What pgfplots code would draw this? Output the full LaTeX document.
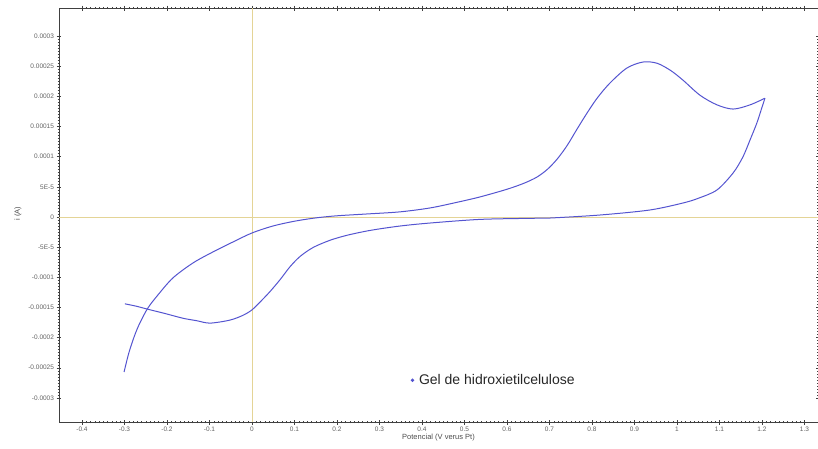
\documentclass[border=0pt]{standalone}
\usepackage{pgfplots}
\pgfplotsset{compat=1.18}
\usepackage{fontspec}
\setmainfont{Liberation Sans}
\definecolor{cvblue}{RGB}{84,84,208}
\definecolor{reftan}{RGB}{228,212,150}
\begin{document}
\begin{tikzpicture}[x=1pt,y=1pt]
\useasboundingbox (-59,-26) rectangle (759,422);
\begin{axis}[
  at={(0,0)}, anchor=south west,
  scale only axis, width=759pt, height=414pt,
  xmin=-0.4541, xmax=1.3318,
  ymin=-0.000340, ymax=0.0003466,
  scaled y ticks=false, scaled x ticks=false,
  xtick={-0.4,-0.3,-0.2,-0.1,0,0.1,0.2,0.3,0.4,0.5,0.6,0.7,0.8,0.9,1,1.1,1.2,1.3},
  xticklabels={-0.4,-0.3,-0.2,-0.1,0,0.1,0.2,0.3,0.4,0.5,0.6,0.7,0.8,0.9,1,1.1,1.2,1.3},
  ytick={-0.0003,-0.00025,-0.0002,-0.00015,-0.0001,-0.00005,0,0.00005,0.0001,0.00015,0.0002,0.00025,0.0003},
  yticklabels={-0.0003,-0.00025,-0.0002,-0.00015,-0.0001,-5E-5,0,5E-5,0.0001,0.00015,0.0002,0.00025,0.0003},
  minor x tick num=9, minor y tick num=9,
  tick align=center,
  major tick length=5pt, minor tick length=2.5pt,
  every tick/.style={black!75, line width=0.4pt},
  axis line style={black!75, line width=0.6pt},
  tick label style={font=\fontsize{6.5}{7}\selectfont, color=black!62},
  /pgf/number format/assume math mode=true,
  xticklabel style={yshift=1.5pt},
  yticklabel style={xshift=1pt},
  xlabel={Potencial (V verus Pt)},
  ylabel={i (A)},
  label style={font=\fontsize{7.5}{8}\selectfont, color=black!70},
  xlabel style={at={(axis description cs:0.5,0)}, anchor=north, yshift=-8.5pt},
  ylabel style={at={(axis description cs:-0.054,0.503)}, anchor=center},
  legend style={draw=none, fill=none, at={(axis description cs:0.457,0.101)}, anchor=west,
    font=\fontsize{14}{16}\selectfont, text=black!85},
  legend cell align=left,
  legend image code/.code={\path[draw=none,fill=none] (0,0) -- (0.28cm,0); \fill[cvblue,draw=none] (0.12cm,0) circle (1.9pt);},
]
\addplot[reftan, line width=0.9pt, forget plot] coordinates {(0,-0.000340) (0,0.0003466)};
\addplot[reftan, line width=0.9pt, forget plot] coordinates {(-0.4541,0) (1.3318,0)};
% forward (anodic) scan
\addplot[cvblue, line width=1pt, smooth, forget plot] coordinates {
(-0.301,-0.000257) (-0.290,-0.000226) (-0.277,-0.000198) (-0.264,-0.000176)
(-0.245,-0.000151) (-0.221,-0.000129) (-0.186,-0.000101) (-0.139,-0.0000763)
(-0.092,-0.0000580) (-0.045,-0.0000415) (0.000,-0.0000265) (0.049,-0.0000150)
(0.100,-0.0000070) (0.150,-0.0000015) (0.200,0.0000020) (0.270,0.0000050)
(0.348,0.0000085) (0.419,0.0000150) (0.480,0.0000240) (0.536,0.0000332)
(0.600,0.0000460) (0.640,0.0000560) (0.670,0.0000660) (0.695,0.0000790)
(0.718,0.0000960) (0.741,0.000118) (0.765,0.000146) (0.788,0.000172)
(0.812,0.000197) (0.842,0.000222) (0.882,0.000247) (0.920,0.000257)
(0.953,0.000255) (0.985,0.000243) (1.014,0.000227) (1.054,0.000202)
(1.094,0.000186) (1.132,0.000179) (1.172,0.000186) (1.207,0.000197)
};
% reverse (cathodic) scan
\addplot[cvblue, line width=1pt, smooth, forget plot] coordinates {
(1.207,0.000197) (1.200,0.000182) (1.188,0.000156) (1.172,0.000128)
(1.155,0.0000995) (1.132,0.0000730) (1.094,0.0000448) (1.050,0.0000310)
(1.014,0.0000232) (0.936,0.0000116) (0.819,0.0000033) (0.701,-0.0000017)
(0.654,-0.0000022) (0.536,-0.0000040) (0.419,-0.0000100) (0.348,-0.0000150)
(0.280,-0.0000220) (0.226,-0.0000299) (0.184,-0.0000385) (0.144,-0.0000505)
(0.113,-0.0000655) (0.089,-0.0000829) (0.066,-0.000104) (0.042,-0.000124)
(0.019,-0.000141) (0.000,-0.000154) (-0.021,-0.000163) (-0.052,-0.000171)
(-0.099,-0.000176) (-0.130,-0.000172) (-0.162,-0.000168) (-0.205,-0.000160)
(-0.245,-0.000153) (-0.272,-0.000148) (-0.299,-0.000144)
};
\addlegendimage{only marks, mark=*, mark size=1.3pt, cvblue}
\addlegendentry{Gel de hidroxietilcelulose}
\end{axis}
\end{tikzpicture}
\end{document}
